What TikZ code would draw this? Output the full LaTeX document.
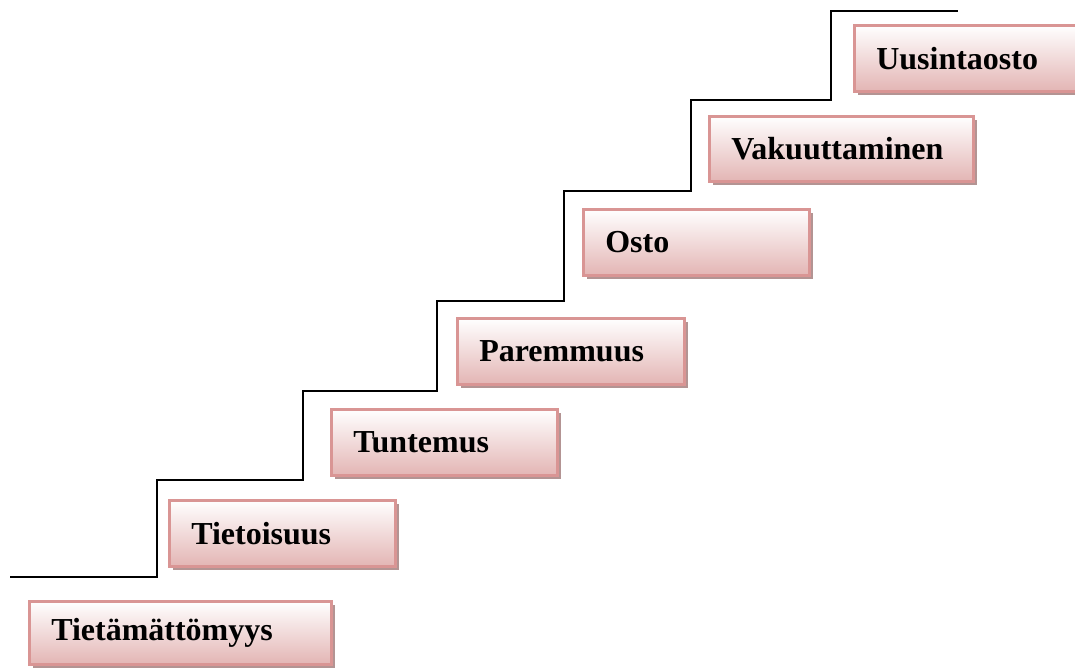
\documentclass[tikz,border=0pt]{standalone}
\usepackage{fontspec}
\setmainfont{Liberation Serif}
\usepackage{xcolor}
\usepackage{tikz}
\usetikzlibrary{positioning,shadows}

\definecolor{stageborder}{HTML}{D99594}
\definecolor{stagebottom}{HTML}{E3B5B4}
\definecolor{stageshadow}{HTML}{B39493}

\begin{document}
\begin{tikzpicture}[
    x=1pt, y=-1pt,
    stage/.style={
        rectangle,
        draw=stageborder,
        line width=2.5pt,
        top color=white,
        bottom color=stagebottom,
        anchor=north west,
        align=left,
        inner xsep=22pt,
        inner ysep=0pt,
        font=\fontsize{32}{32}\selectfont\bfseries,
        drop shadow={shadow xshift=4pt, shadow yshift=-4pt,
            fill=stageshadow, opacity=1}
    },
    stairs/.style={line width=2pt, black}
]

\useasboundingbox (0,0) rectangle (1075,670);

% ------------------------------------------------------------
% Staircase
% ------------------------------------------------------------

\draw[stairs]
    (10,577) -- (157,577) -- (157,480) -- (303,480) -- (303,391)
    -- (437,391) -- (437,301) -- (564,301) -- (564,191)
    -- (691,191) -- (691,100) -- (831,100) -- (831,11) -- (958,11);

% ------------------------------------------------------------
% Stages
% ------------------------------------------------------------

\node[stage, text width=258pt, minimum height=63pt] (tietamattomyys)
    at (28,600) {Tietämättömyys};

\node[stage, text width=182pt, minimum height=66pt] (tietoisuus)
    at (168,499) {Tietoisuus};

\node[stage, text width=182pt, minimum height=66pt] (tuntemus)
    at (330,408) {Tuntemus};

\node[stage, text width=183pt, minimum height=66pt] (paremmuus)
    at (456,317) {Paremmuus};

\node[stage, text width=182pt, minimum height=66pt] (osto)
    at (582,208) {Osto};

\node[stage, text width=220pt, minimum height=65pt] (vakuuttaminen)
    at (708,115) {Vakuuttaminen};

\node[stage, text width=190pt, minimum height=66pt] (uusintaosto)
    at (853,24) {Uusintaosto};

\end{tikzpicture}
\end{document}
